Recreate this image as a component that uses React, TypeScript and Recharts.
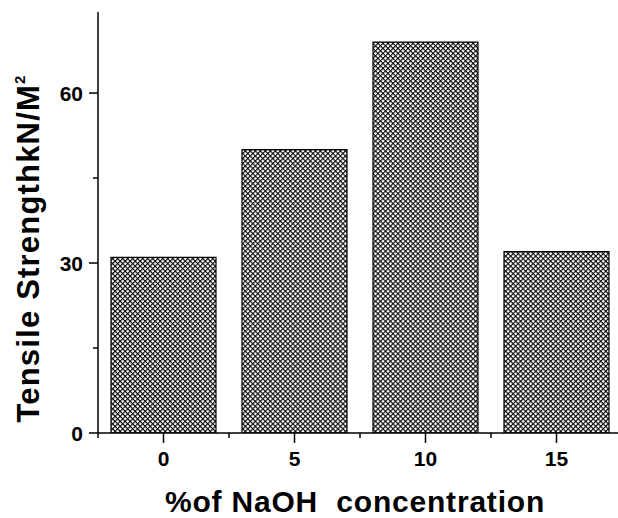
import { Bar, BarChart, Label, XAxis, YAxis } from "recharts";

const concentration = [0, 5, 10, 15];
const strength = [31, 50, 69, 32];
const xTicks = [-2.5, 0, 2.5, 5, 7.5, 10, 12.5, 15, 17.5];
const xLabelled = [0, 5, 10, 15];
const yTicks = [0, 15, 30, 45, 60];
const yLabelled = [0, 30, 60];

const data = concentration.map((c, i) => ({ c, v: strength[i] }));

const FONT = "'Liberation Sans', Arial, sans-serif";
const INK = "#000";

function BottomTick({ x, y, payload }: any) {
  const major = xLabelled.includes(payload.value);
  return (
    <g>
      <line x1={x} y1={y} x2={x} y2={y + (major ? 10 : 5)} stroke={INK} strokeWidth={1.5} />
      {major && (
        <text x={x} y={y + 33} textAnchor="middle" fontSize={21} fontWeight="bold" fontFamily={FONT} fill={INK}>
          {payload.value}
        </text>
      )}
    </g>
  );
}

function TopTick({ x, y, payload }: any) {
  const major = xLabelled.includes(payload.value);
  return <line x1={x} y1={y} x2={x} y2={y + (major ? 8 : 4)} stroke={INK} strokeWidth={1.5} />;
}

function LeftTick({ x, y, payload }: any) {
  const major = yLabelled.includes(payload.value);
  return (
    <g>
      <line x1={x - (major ? 9 : 5)} y1={y} x2={x} y2={y} stroke={INK} strokeWidth={1.5} />
      {major && (
        <text x={x - 15} y={y} dy="0.36em" textAnchor="end" fontSize={21} fontWeight="bold" fontFamily={FONT} fill={INK}>
          {payload.value}
        </text>
      )}
    </g>
  );
}

function RightTick({ x, y, payload }: any) {
  const major = yLabelled.includes(payload.value);
  return <line x1={x - (major ? 9 : 5)} y1={y} x2={x} y2={y} stroke={INK} strokeWidth={1.5} />;
}

function XTitle({ viewBox }: any) {
  const cx = viewBox.x + viewBox.width / 2 - 5;
  return (
    <text
      x={cx}
      y={viewBox.y + 79}
      textAnchor="middle"
      fontSize={30}
      fontWeight="bold"
      fontFamily={FONT}
      letterSpacing={0.8}
      fill={INK}
      style={{ whiteSpace: "pre" }}
    >
      {"%of NaOH  concentration"}
    </text>
  );
}

function YTitle({ viewBox }: any) {
  const cx = 39;
  const cy = viewBox.y + viewBox.height / 2 + 26;
  return (
    <text
      x={cx}
      y={cy}
      transform={`rotate(-90 ${cx} ${cy})`}
      textAnchor="middle"
      fontSize={31}
      fontWeight="bold"
      fontFamily={FONT}
      letterSpacing={1.2}
      fill={INK}
    >
      Tensile StrengthkN/M
      <tspan fontSize={15} dy={-14}>
        2
      </tspan>
    </text>
  );
}

export default function App() {
  return (
    <div
      style={{
        position: "absolute",
        left: 0,
        top: 0,
        width: 618,
        height: 518,
        overflow: "hidden",
        background: "#fff",
        fontFamily: FONT,
      }}
    >
      <svg width={0} height={0} style={{ position: "absolute" }}>
        <defs>
          <pattern id="xhatch" patternUnits="userSpaceOnUse" width={3.54} height={3.54} patternTransform="rotate(45)">
            <rect width={3.54} height={3.54} fill="#fff" />
            <rect width={3.54} height={1.1} fill="#000" />
            <rect width={1.1} height={3.54} fill="#000" />
          </pattern>
        </defs>
      </svg>
      <BarChart width={640} height={518} data={data} margin={{ top: 12, right: 18, left: 0, bottom: 0 }}>
        <XAxis
          dataKey="c"
          type="number"
          domain={[-2.5, 17.5]}
          ticks={xTicks}
          allowDataOverflow
          height={85}
          tickSize={0}
          tickMargin={0}
          tickLine={false}
          tick={<BottomTick />}
          axisLine={{ stroke: INK, strokeWidth: 1.5 }}
          interval={0}
        >
          <Label content={<XTitle />} />
        </XAxis>
        <XAxis
          xAxisId="top"
          orientation="top"
          dataKey="c"
          type="number"
          domain={[-2.5, 17.5]}
          ticks={xTicks}
          allowDataOverflow
          height={0}
          tickSize={0}
          tickMargin={0}
          tickLine={false}
          tick={<TopTick />}
          axisLine={{ stroke: INK, strokeWidth: 1.5 }}
          interval={0}
        />
        <YAxis
          type="number"
          domain={[0, 74.3]}
          ticks={yTicks}
          allowDataOverflow
          width={98}
          tickSize={0}
          tickMargin={0}
          tickLine={false}
          tick={<LeftTick />}
          axisLine={{ stroke: INK, strokeWidth: 1.5 }}
          interval={0}
        >
          <Label content={<YTitle />} />
        </YAxis>
        <YAxis
          yAxisId="right"
          orientation="right"
          type="number"
          domain={[0, 74.3]}
          ticks={yTicks}
          allowDataOverflow
          width={0}
          tickSize={0}
          tickMargin={0}
          tickLine={false}
          tick={<RightTick />}
          axisLine={{ stroke: INK, strokeWidth: 1.5 }}
          interval={0}
        />
        <Bar dataKey="v" barSize={105} fill="url(#xhatch)" stroke={INK} strokeWidth={1.2} isAnimationActive={false} />
      </BarChart>
    </div>
  );
}
